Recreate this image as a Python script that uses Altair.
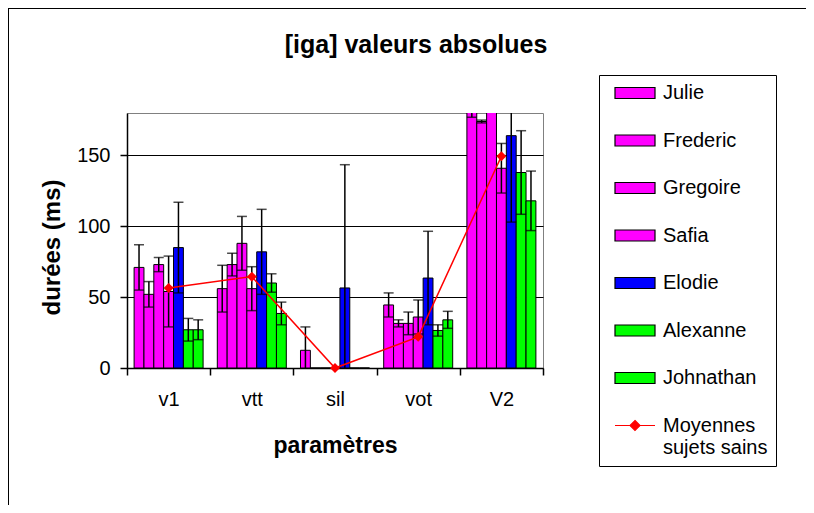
import altair as alt
import pandas as pd

categories = ["v1", "vtt", "sil", "vot", "V2"]
subjects = ["Julie", "Frederic", "Gregoire", "Safia", "Elodie", "Alexanne", "Johnathan"]
subject_colors = ["#FF00FF", "#FF00FF", "#FF00FF", "#FF00FF", "#0000FF", "#00FF00", "#00FF00"]
mean_label = "Moyennes sujets sains"
mean_color = "#FF0000"

julie = [71, 56, 12.5, 44.5, 190]
julie_err = [16, 16.5, 16.5, 8.5, 13]
frederic = [52, 73, 0, 31.5, 174]
frederic_err = [9, 8, 0, 2.5, 1]
gregoire = [73, 88, 0, 31.5, 200]
gregoire_err = [5, 19, 0, 8, 15]
safia = [54, 56, 0, 36, 141]
safia_err = [25, 15.5, 0, 12, 17.5]
elodie = [85, 82, 56.5, 63.5, 164]
elodie_err = [32, 30, 87, 33, 61]
alexanne = [27, 60, 0, 26.5, 138]
alexanne_err = [8, 6.5, 0, 4, 29.5]
johnathan = [27, 38.5, 0, 34, 118]
johnathan_err = [7, 8, 0, 6, 21]
means = [56.5, 64.5, 0, 22, 149.5]

y_ticks = [0, 50, 100, 150]

series = [
    (julie, julie_err), (frederic, frederic_err), (gregoire, gregoire_err),
    (safia, safia_err), (elodie, elodie_err), (alexanne, alexanne_err),
    (johnathan, johnathan_err),
]

rows = []
caps = []
for name, (vals, errs) in zip(subjects, series):
    for cat, v, e in zip(categories, vals, errs):
        rows.append({"param": cat, "subject": name, "value": v, "err": e,
                     "lo": v - e, "hi": v + e})
        if e > 0:
            caps.append({"param": cat, "subject": name, "cap": v - e})
            caps.append({"param": cat, "subject": name, "cap": v + e})
df = pd.DataFrame(rows)
df_err = df[df["err"] > 0]
df_caps = pd.DataFrame(caps)
df_mean = pd.DataFrame({"param": categories, "value": means})

FONT = "Liberation Sans"

x_scale = alt.Scale(domain=categories, paddingInner=0, paddingOuter=0)
xoff_scale = alt.Scale(domain=subjects, paddingInner=0, paddingOuter=0.72)
y_scale = alt.Scale(domain=[0, 180], nice=False, zero=True)

x_enc = alt.X("param:N", scale=x_scale, sort=categories,
              axis=alt.Axis(title="paramètres", tickBand="extent", labelAngle=0,
                            tickSize=7, labelPadding=14, domainWidth=1.5, tickWidth=1.5,
                            titleFontSize=23, titleFontWeight="bold",
                            titleX=208, titleY=84, titleBaseline="alphabetic"))
xoff_enc = alt.XOffset("subject:N", scale=xoff_scale, sort=subjects)
y_enc = alt.Y("value:Q", scale=y_scale,
              axis=alt.Axis(title="durées (ms)", values=y_ticks, grid=True,
                            tickSize=7, labelPadding=10, domainWidth=1.5, tickWidth=1.5,
                            titleFontSize=24, titleFontWeight="bold",
                            titleAngle=270, titleX=-75, titleY=134,
                            titleAlign="center", titleBaseline="middle"))

rect_path = "M-4,-1.1L4,-1.1L4,1.1L-4,1.1Z"
line_path = "M-4,0L4,0M0,-1L1,0L0,1L-1,0Z"

legend = alt.Legend(
    title=None, orient="none", legendX=472, legendY=-38,
    strokeColor="black", fillColor="white", padding=8,
    symbolSize=100, symbolOffset=18, labelOffset=18,
    symbolStrokeWidth=1.2, symbolOpacity=1,
    labelFont=FONT, labelFontSize=20, labelColor="black", labelLimit=300,
    rowPadding=27.5,
    labelExpr="datum.label == '" + mean_label + "' ? ['Moyennes', 'sujets sains'] : datum.label",
)

legend_domain = subjects + [mean_label]
color_enc = alt.Color("subject:N",
                      scale=alt.Scale(domain=legend_domain,
                                      range=subject_colors + [mean_color]),
                      legend=legend)
shape_enc = alt.Shape("subject:N",
                      scale=alt.Scale(domain=legend_domain,
                                      range=[rect_path] * 7 + [line_path]),
                      legend=legend)
stroke_enc = alt.Stroke("subject:N",
                        scale=alt.Scale(domain=legend_domain,
                                        range=["black"] * 7 + [mean_color]),
                        legend=legend)

bars = alt.Chart(df).mark_bar(stroke="black", strokeWidth=1, clip=True).encode(
    x=x_enc, xOffset=xoff_enc, y=y_enc, color=color_enc)

legend_pts = alt.Chart(df).mark_point(filled=True, opacity=0, size=100).encode(
    x="param:N", xOffset="subject:N", y="value:Q",
    color=color_enc, shape=shape_enc, stroke=stroke_enc)

err_lines = alt.Chart(df_err).mark_rule(color="black", strokeWidth=1.5, clip=True).encode(
    x="param:N", xOffset="subject:N", y="lo:Q", y2="hi:Q")

err_caps = alt.Chart(df_caps).mark_tick(color="black", thickness=1.5, size=10,
                                        orient="horizontal", clip=True).encode(
    x="param:N", xOffset="subject:N", y="cap:Q")

mean_line = alt.Chart(df_mean).mark_line(color=mean_color, strokeWidth=1.5).encode(
    x="param:N", y="value:Q")
mean_pts = alt.Chart(df_mean).mark_point(shape="diamond", filled=True, size=100,
                                         color=mean_color, opacity=1).encode(
    x="param:N", y="value:Q")

frame_src = pd.DataFrame({"k": [0]})
frame_left = alt.Chart(frame_src).mark_rule(color="black", strokeWidth=2).encode(
    x=alt.value(-119), y=alt.value(-105), y2=alt.value(420))
frame_top = alt.Chart(frame_src).mark_rule(color="black", strokeWidth=2).encode(
    x=alt.value(-119), x2=alt.value(700), y=alt.value(-105))

chart = alt.layer(bars, legend_pts, err_lines, err_caps, mean_line, mean_pts,
                  frame_left, frame_top).properties(
    width=416, height=255,
    autosize=alt.AutoSizeParams(type="none"),
    padding={"left": 119, "top": 105, "right": 263, "bottom": 137},
    title=alt.TitleParams("[iga] valeurs absolues", font=FONT, fontSize=25,
                          fontWeight="bold", color="black", anchor="middle",
                          frame="group", dx=81, offset=-71, baseline="alphabetic"),
    background="white",
).configure_view(stroke="#808080", strokeWidth=1).configure_axis(
    domainColor="black", tickColor="black", gridColor="black", gridWidth=1,
    labelFont=FONT, labelFontSize=20, labelColor="black",
    titleFont=FONT, titleColor="black",
)

chart.save("out.html", embed_options={"renderer": "svg", "actions": False})
